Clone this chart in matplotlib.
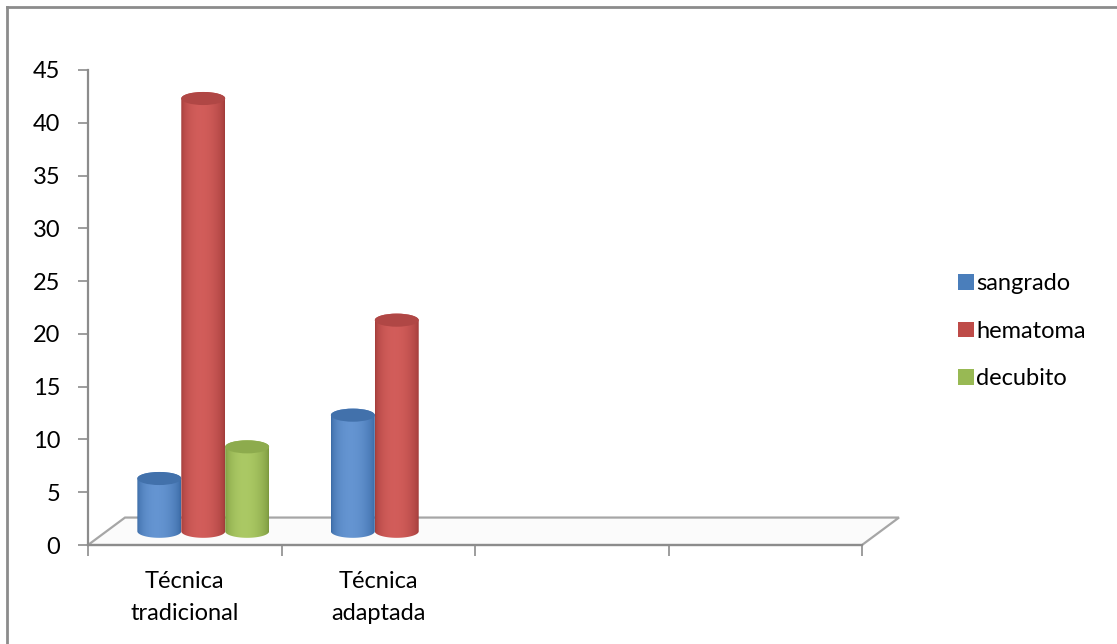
import numpy as np
import matplotlib
matplotlib.use('Agg')
import matplotlib.pyplot as plt
from matplotlib.path import Path
from matplotlib.patches import PathPatch, Ellipse, Polygon, Patch
from matplotlib.colors import to_rgb

# datos
categorias = ["Técnica\ntradicional", "Técnica\nadaptada", "", ""]
series = ["sangrado", "hematoma", "decubito"]
sangrado = [5, 11, np.nan, np.nan]
hematoma = [41, 20, np.nan, np.nan]
decubito = [8, np.nan, np.nan, np.nan]
yticks = [0, 5, 10, 15, 20, 25, 30, 35, 40, 45]

# colores (oscuro, claro, tapa, leyenda)
colores = {
    "sangrado": ("#34649f", "#6b9bd8", "#4271ab", "#4a7ebb"),
    "hematoma": ("#9c3836", "#d9625f", "#b04745", "#be4b48"),
    "decubito": ("#76933a", "#b2d06a", "#8dab4d", "#98b954"),
}

plt.rcParams['font.family'] = ['Lato', 'DejaVu Sans']
FS = 17

fig = plt.figure(figsize=(11.17, 6.44), dpi=100)
W, H = 1117, 644
ax = fig.add_axes([88 / W, (H - 545) / H, (862 - 88) / W, (545 - 70) / H])

# profundidad (pseudo 3D)
dx = 0.0956   # medio fondo en unidades de categoria
dy = 1.30     # medio fondo en unidades de valor
bw = 0.227    # ancho cilindro
eh = 0.62     # semieje vertical de la elipse

# piso
piso = Polygon([(0, 0), (4, 0), (4 + 2 * dx, 2 * dy), (2 * dx, 2 * dy)],
               closed=True, facecolor='#fbfbfb', edgecolor='#a6a6a6',
               linewidth=1.6, clip_on=False, zorder=1)
ax.add_patch(piso)

# gradiente horizontal del cilindro
t = np.linspace(0, 1, 200)
perfil = np.sin(np.pi * t) ** 0.5
perfil = perfil * (1 - 0.25 * t)  # mas claro hacia la izquierda


def cilindro(xc, valor, nombre, z):
    oscuro, claro, tapa, _ = colores[nombre]
    c0 = np.array(to_rgb(oscuro))
    c1 = np.array(to_rgb(claro))
    img = c0[None, :] + perfil[:, None] * (c1 - c0)[None, :]
    img = img[None, :, :]
    x0, x1 = xc - bw / 2, xc + bw / 2
    yb = dy
    yt = dy + valor
    ang_b = np.linspace(np.pi, 2 * np.pi, 60)
    ang_t = np.linspace(0, np.pi, 60)
    pts = [(x0, yt), (x0, yb)]
    pts += [(xc + bw / 2 * np.cos(a), yb + eh * np.sin(a)) for a in ang_b]
    pts += [(x1, yt)]
    pts += [(xc + bw / 2 * np.cos(a), yt + eh * np.sin(a)) for a in ang_t]
    pts += [(x0, yt)]
    path = Path(pts)
    patch = PathPatch(path, facecolor='none', edgecolor='none', zorder=z)
    ax.add_patch(patch)
    im = ax.imshow(img, extent=[x0, x1, yb - eh, yt + eh], aspect='auto',
                   interpolation='bilinear', zorder=z)
    im.set_clip_path(patch)
    ax.add_patch(Ellipse((xc, yt), bw, 2 * eh, facecolor=tapa,
                         edgecolor='none', zorder=z + 0.5))


datos = {"sangrado": sangrado, "hematoma": hematoma, "decubito": decubito}
z = 3
for i in range(len(categorias)):
    for j, s in enumerate(series):
        v = datos[s][i]
        if np.isnan(v):
            continue
        xc = i + 0.5 + (j - 1) * bw + dx
        cilindro(xc, v, s, z)
        z += 1

ax.set_xlim(0, 4)
ax.set_ylim(0, 45)

# ejes
for sp in ['top', 'right']:
    ax.spines[sp].set_visible(False)
ax.spines['left'].set_color('#8c8c8c')
ax.spines['left'].set_linewidth(1.6)
ax.spines['bottom'].set_color('#8c8c8c')
ax.spines['bottom'].set_linewidth(1.6)
ax.patch.set_alpha(0)

ax.set_yticks(yticks)
ax.set_yticklabels([str(v) for v in yticks])
ax.tick_params(axis='y', length=7, width=1.2, color='#8c8c8c', pad=13,
               labelsize=FS, labelcolor='black')

ax.set_xticks([0, 1, 2, 3, 4])
ax.set_xticklabels([])
ax.tick_params(axis='x', which='major', length=8, width=1.2, color='#8c8c8c')
ax.set_xticks([0.5, 1.5, 2.5, 3.5], minor=True)
ax.set_xticklabels(categorias, minor=True)
ax.tick_params(axis='x', which='minor', length=0, pad=19, labelsize=FS)
for lbl in ax.get_xticklabels(minor=True):
    lbl.set_linespacing(1.62)

# leyenda
handles = [Patch(facecolor=colores[s][3], edgecolor='none') for s in series]
fig.legend(handles, series, loc='upper left',
           bbox_to_anchor=(937 / W, 1 - 252 / H), frameon=False,
           fontsize=FS, handlelength=0.65, handleheight=0.65,
           handletextpad=0.1, labelspacing=1.12)

# borde del grafico
fig.add_artist(plt.Line2D([7 / W, 7 / W], [0, 1 - 7 / H], color='#8c8c8c',
                          linewidth=2))
fig.add_artist(plt.Line2D([7 / W, 1], [1 - 7 / H, 1 - 7 / H], color='#8c8c8c',
                          linewidth=2))

fig.savefig('out.png', dpi=100)
